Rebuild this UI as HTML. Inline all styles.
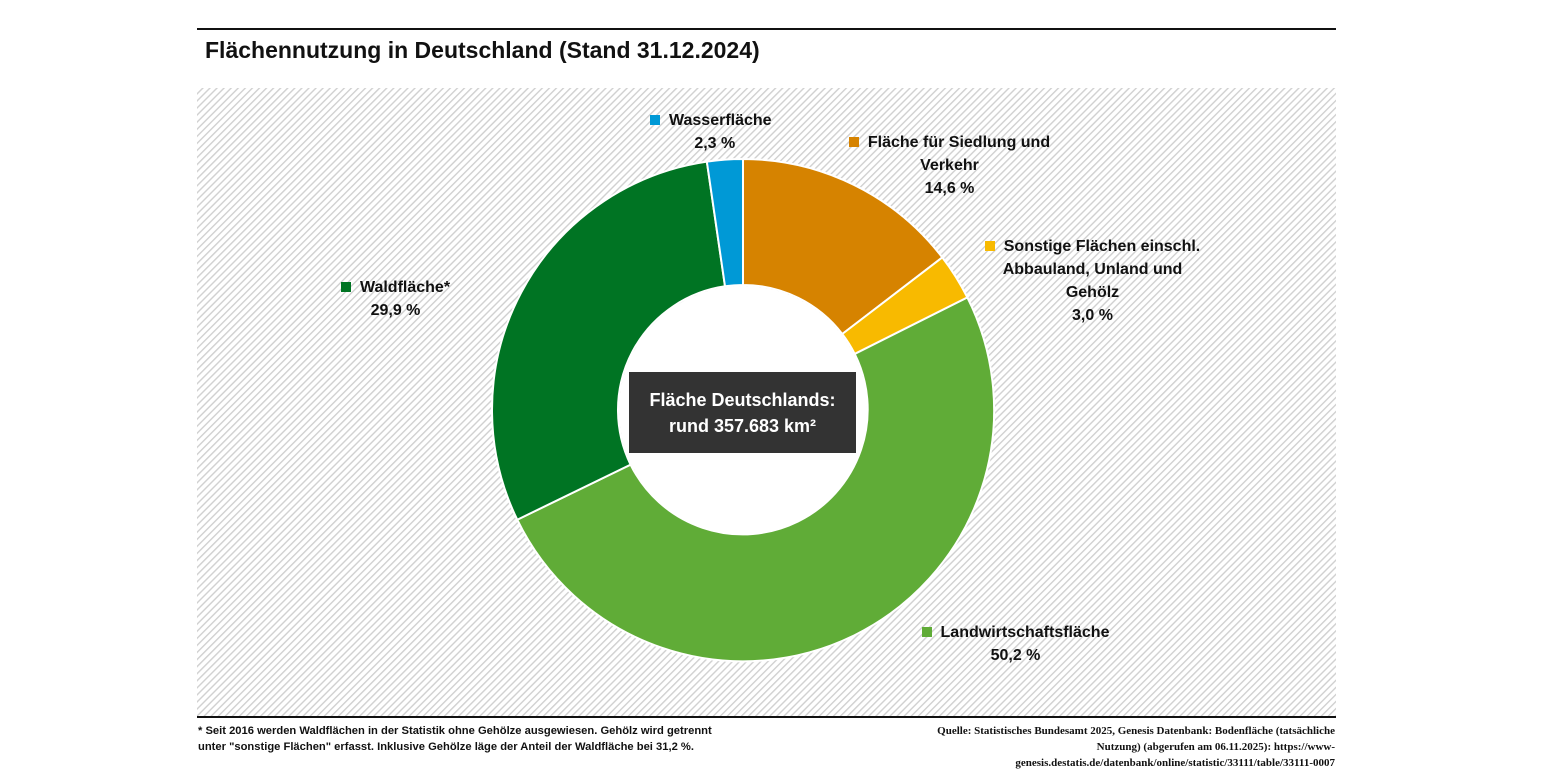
<!DOCTYPE html>
<html><head><meta charset="utf-8"><style>
body{margin:0;width:1545px;height:775px;background:#fff;font-family:"Liberation Sans",sans-serif;position:relative;overflow:hidden}
.t{position:absolute;font-weight:bold;color:#111}
.sq{display:inline-block;width:10px;height:10px;margin-right:9px}
</style></head><body>
<div style="position:absolute;left:197px;top:28px;width:1139px;height:2px;background:#111"></div>
<div class="t" style="left:205px;top:37px;font-size:23px;">Flächennutzung in Deutschland (Stand 31.12.2024)</div>
<svg style="position:absolute;left:0;top:0" width="1545" height="775">
<defs><pattern id="h" width="5" height="5" patternUnits="userSpaceOnUse" patternTransform="rotate(45)">
<rect width="5" height="5" fill="#fff"/><rect width="1.4" height="5" fill="#d0d0d0"/></pattern></defs>
<rect x="197" y="88" width="1139" height="628" fill="url(#h)"/>
<rect x="197" y="716" width="1139" height="2" fill="#111"/>
<g id="donut"></g>
</svg>
<div style="position:absolute;left:629px;top:372px;width:227px;height:81px;background:#333;color:#fff;font-weight:bold;font-size:18px;text-align:center;line-height:26px;box-sizing:border-box;padding-top:15px">Fläche Deutschlands:<br>rund 357.683 km²</div>
<div class="t" style="left:650px;top:109px;font-size:16px;line-height:23px;text-align:center"><span class="sq" style="background:#0099d6"></span>Wasserfläche<br><span style="margin-left:8px">2,3 %</span></div>
<div class="t" style="left:842px;top:131px;width:215px;font-size:16px;line-height:23px;text-align:center"><span class="sq" style="background:#d68300"></span>Fläche für Siedlung und<br>Verkehr<br>14,6 %</div>
<div class="t" style="left:980px;top:235px;width:225px;font-size:16px;line-height:23px;text-align:center"><span class="sq" style="background:#f8ba00"></span>Sonstige Flächen einschl.<br>Abbauland, Unland und<br>Gehölz<br>3,0 %</div>
<div class="t" style="left:333px;top:276px;width:125px;font-size:16px;line-height:23px;text-align:center"><span class="sq" style="background:#007423"></span>Waldfläche*<br>29,9 %</div>
<div class="t" style="left:913px;top:621px;width:205px;font-size:16px;line-height:23px;text-align:center"><span class="sq" style="background:#60ac37"></span>Landwirtschaftsfläche<br>50,2 %</div>
<div class="t" style="left:198px;top:723px;font-size:11.2px;line-height:16px;font-weight:bold">* Seit 2016 werden Waldflächen in der Statistik ohne Gehölze ausgewiesen. Gehölz wird getrennt<br>unter "sonstige Flächen" erfasst. Inklusive Gehölze läge der Anteil der Waldfläche bei 31,2 %.</div>
<div class="t" style="right:210px;top:723px;font-size:11px;line-height:16px;text-align:right;font-family:'Liberation Serif',serif">Quelle: Statistisches Bundesamt 2025, Genesis Datenbank: Bodenfläche (tatsächliche<br>Nutzung) (abgerufen am 06.11.2025): https://www-<br>genesis.destatis.de/datenbank/online/statistic/33111/table/33111-0007</div>
<script>
var cx=743,cy=410,R=251,r=125;
var d=[[0.146,"#d68300"],[0.030,"#f8ba00"],[0.502,"#60ac37"],[0.299,"#007423"],[0.023,"#0099d6"]];
var a=0,s="";
function p(rad,f){var t=f*2*Math.PI;return (cx+rad*Math.sin(t)).toFixed(2)+","+(cy-rad*Math.cos(t)).toFixed(2);}
d.forEach(function(e){var b=a+e[0];var L=e[0]>0.5?1:0;
s+='<path d="M'+p(R,a)+' A'+R+','+R+' 0 '+L+' 1 '+p(R,b)+' L'+p(r,b)+' A'+r+','+r+' 0 '+L+' 0 '+p(r,a)+' Z" fill="'+e[1]+'" stroke="#fff" stroke-width="2"/>';a=b;});
s+='<circle cx="'+cx+'" cy="'+cy+'" r="'+(r-1)+'" fill="#fff"/>';
document.getElementById("donut").innerHTML=s;
</script>
</body></html>
